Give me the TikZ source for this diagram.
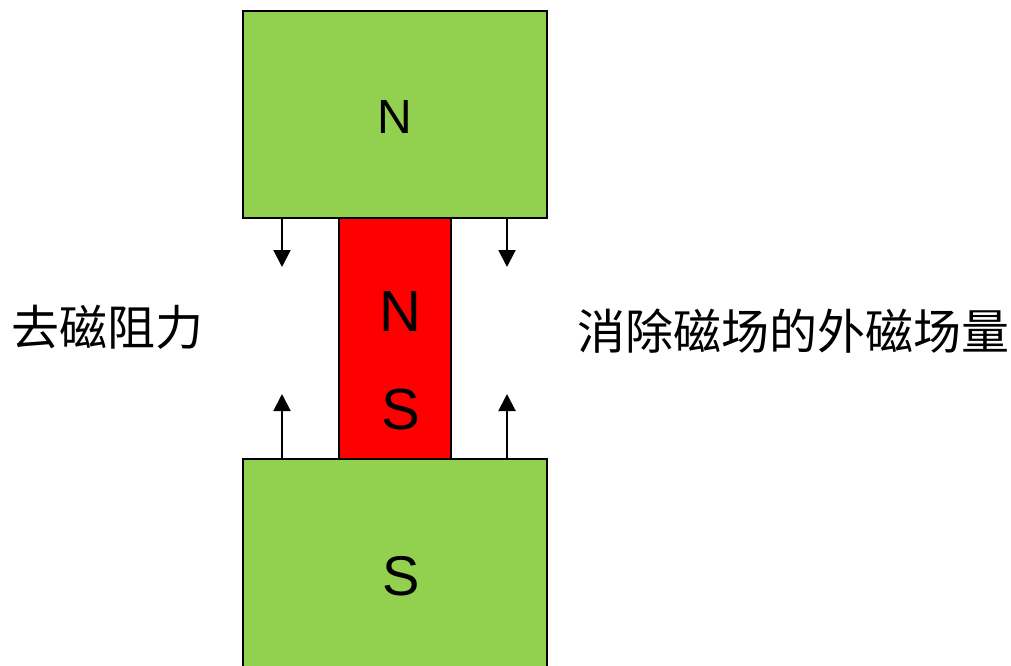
\documentclass[tikz,border=0pt]{standalone}
\usepackage{fontspec}
\setmainfont{Liberation Sans}
\newfontfamily\cjk{Noto Sans CJK SC}
\usetikzlibrary{arrows.meta}
\definecolor{mygreen}{HTML}{92D050}
\definecolor{myred}{HTML}{FF0000}
\begin{document}
\begin{tikzpicture}[x=1pt,y=-1pt,
  box/.style={draw=black,line width=2pt,inner sep=0pt,outer sep=0pt},
  lbl/.style={font=\fontsize{48}{52}\selectfont},
  arr/.style={line width=2pt,-{Triangle[width=17pt,length=17pt]}}]
\useasboundingbox (0,0) rectangle (1011,665);
\clip (0,0) rectangle (1011,665);
\node[box,fill=mygreen,minimum width=304pt,minimum height=207pt,anchor=north west] (top) at (243,11) {};
\node[box,fill=mygreen,minimum width=304pt,minimum height=230pt,anchor=north west] (bot) at (243,459) {};
\node[box,fill=myred,minimum width=112pt,minimum height=241pt,anchor=north west] (mag) at (339,218) {};
\node[font=\fontsize{48}{52}\selectfont] (tn) at (395,117) {N};
\node[font=\fontsize{58}{62}\selectfont] (mn) at (400,312) {N};
\node[font=\fontsize{58}{62}\selectfont] (ms) at (401,410) {S};
\node[font=\fontsize{56}{60}\selectfont] (bs) at (401,576) {S};
\node[lbl,anchor=west,inner sep=0pt] (left) at (11,327) {\cjk 去磁阻力};
\node[lbl,anchor=west,inner sep=0pt] (right) at (577,331) {\cjk 消除磁场的外磁场量};
\coordinate (a1s) at (282,219); \coordinate (a1e) at (282,267);
\coordinate (a2s) at (507,219); \coordinate (a2e) at (507,267);
\coordinate (a3s) at (282,458); \coordinate (a3e) at (282,394);
\coordinate (a4s) at (507,458); \coordinate (a4e) at (507,394);
\draw[arr] (a1s) -- (a1e);
\draw[arr] (a2s) -- (a2e);
\draw[arr] (a3s) -- (a3e);
\draw[arr] (a4s) -- (a4e);
\end{tikzpicture}
\end{document}
